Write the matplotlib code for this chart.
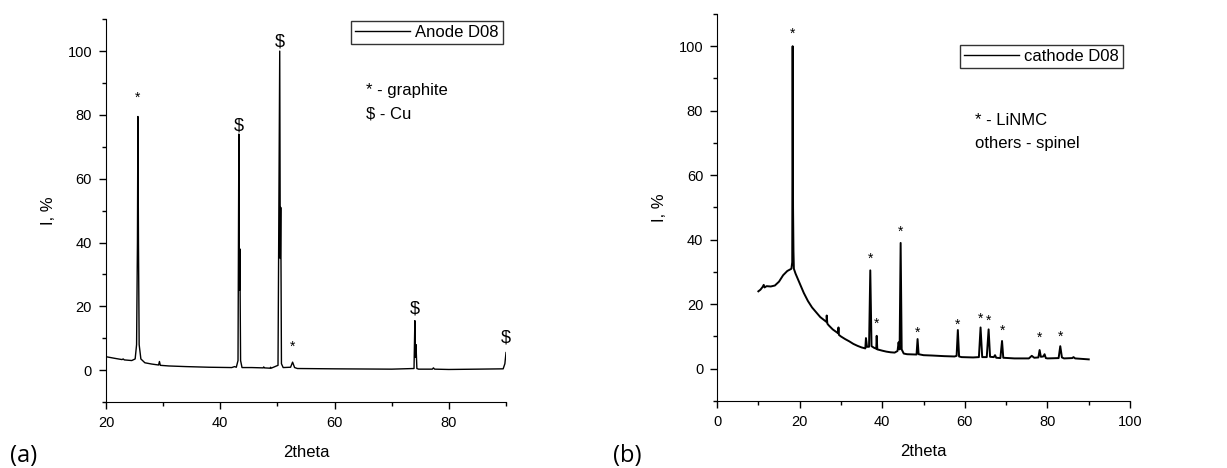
import matplotlib
matplotlib.use("Agg")
import matplotlib.pyplot as plt
from matplotlib.ticker import MultipleLocator

plt.rcParams['font.family'] = ['Liberation Sans', 'DejaVu Sans']

# anode D08 trace (2theta, I %)
anode_2theta = [20.0, 21.5, 22.8, 23.0, 23.2, 24.5, 25.1, 25.35, 25.5, 25.58, 25.68, 25.8, 26.1,
                26.8, 28.0, 29.2, 29.35, 29.5, 31.0, 34.0, 38.0, 42.0, 42.5, 42.8, 43.1, 43.25,
                43.35, 43.42, 43.55, 43.8, 45.5, 47.5, 47.6, 47.7, 48.7, 48.8, 48.9, 50.1, 50.4,
                50.5, 50.58, 50.7, 51.0, 52.3, 52.65, 53.0, 53.5, 60.0, 70.0, 73.9, 74.05, 74.15,
                74.25, 74.4, 74.7, 77.1, 77.3, 77.5, 80.0, 85.0, 89.5, 89.8, 90.0]
anode_int = [4.2, 3.7, 3.3, 3.5, 3.2, 3.0, 3.5, 8.0, 40.0, 79.5, 40.0, 8.0, 3.5,
             2.3, 1.9, 1.6, 2.7, 1.5, 1.3, 1.1, 0.9, 0.8, 1.1, 0.9, 3.0, 74.0,
             25.0, 38.0, 3.0, 0.8, 0.8, 0.7, 1.0, 0.7, 0.6, 0.9, 0.6, 1.5, 100.0,
             35.0, 51.0, 2.0, 0.8, 0.9, 2.5, 0.8, 0.5, 0.4, 0.3, 0.5, 15.5, 4.0,
             8.0, 0.5, 0.3, 0.3, 0.7, 0.3, 0.2, 0.3, 0.4, 2.0, 5.5]

# cathode D08 trace
cathode_2theta = [10.0, 10.5, 11.0, 11.3, 11.5, 12.0, 13.0, 14.0, 15.0, 16.0, 17.0, 18.0, 18.2,
                  18.3, 18.4, 18.5, 18.6, 19.0, 20.0, 21.0, 22.0, 23.0, 24.0, 25.0, 26.0, 26.5,
                  26.55, 26.7, 27.0, 28.0, 29.3, 29.4, 29.5, 30.0, 31.0, 32.0, 33.0, 34.0, 35.0,
                  35.9, 36.05, 36.3, 36.8, 37.1, 37.4, 38.0, 38.55, 38.65, 38.8, 40.0, 41.0, 42.0,
                  43.0, 43.7, 43.95, 44.2, 44.45, 44.7, 45.2, 46.0, 48.3, 48.55, 48.8, 50.0, 52.0,
                  55.0, 57.5, 58.0, 58.3, 58.6, 59.2, 62.0, 63.4, 63.8, 64.2, 65.3, 65.75, 66.1,
                  67.0, 67.3, 67.6, 68.6, 69.0, 69.3, 72.0, 75.5, 76.2, 76.8, 77.8, 78.1, 78.4,
                  79.0, 79.3, 79.6, 80.0, 82.7, 83.1, 83.5, 84.0, 86.0, 86.3, 86.7, 90.0]
cathode_int = [24.0, 24.5, 25.3, 26.0, 25.2, 25.6, 25.5, 25.8, 27.0, 29.0, 30.3, 31.0, 33.0,
               100.0, 50.0, 36.5, 31.0, 29.5, 26.5, 23.5, 21.0, 19.0, 17.5, 16.0, 15.0, 14.5,
               16.5, 14.0, 13.5, 12.2, 11.0, 12.8, 10.5, 10.0, 9.2, 8.5, 7.7, 7.1, 6.6,
               6.3, 9.5, 6.8, 6.8, 30.5, 7.0, 6.5, 6.2, 10.2, 6.0, 5.6, 5.3, 5.1,
               5.0, 5.5, 8.2, 6.0, 39.0, 6.0, 4.7, 4.5, 4.4, 9.2, 4.5, 4.2, 4.1,
               3.9, 3.8, 4.0, 12.0, 3.8, 3.6, 3.5, 3.6, 12.8, 3.6, 3.6, 12.2, 3.7,
               3.6, 4.2, 3.4, 3.3, 8.6, 3.4, 3.2, 3.2, 4.0, 3.4, 3.5, 5.8, 3.7,
               3.8, 4.5, 3.3, 3.2, 3.3, 7.0, 3.5, 3.2, 3.3, 3.6, 3.2, 2.9]

# peak markers: position, label height, symbol
anode_mark_x = [25.58, 43.25, 50.4, 52.65, 74.05, 89.9]
anode_mark_y = [85.5, 76.5, 103.0, 7.3, 19.0, 10.0]
anode_mark_s = ['*', '$', '$', '*', '$', '$']

cathode_mark_x = [18.3, 37.1, 38.65, 44.45, 48.55, 58.3, 63.8, 65.75, 69.0, 78.1, 83.1]
cathode_mark_y = [104.0, 34.0, 14.0, 42.5, 11.3, 13.6, 15.6, 15.0, 11.7, 9.6, 10.0]


def style_axes(ax, xmajor, xminor):
    ax.spines['top'].set_visible(False)
    ax.spines['right'].set_visible(False)
    ax.set_ylim(-10, 110)
    ax.xaxis.set_major_locator(MultipleLocator(xmajor))
    ax.xaxis.set_minor_locator(MultipleLocator(xminor))
    ax.yaxis.set_major_locator(MultipleLocator(20))
    ax.yaxis.set_minor_locator(MultipleLocator(10))
    ax.tick_params(which='major', direction='out', length=5, width=1, labelsize=10.5, pad=5)
    ax.tick_params(which='minor', direction='out', length=3, width=1)
    ax.set_xlabel('2theta', fontsize=12, labelpad=11)
    ax.set_ylabel('I, %', fontsize=12, labelpad=8)


fig = plt.figure(figsize=(12.27, 4.68), dpi=100)

ax1 = fig.add_axes([0.0864, 0.141, 0.326, 0.818])
ax1.plot(anode_2theta, anode_int, color='black', lw=1.0, label='Anode D08')
ax1.set_xlim(20, 90)
style_axes(ax1, 20, 10)
for x, y, s in zip(anode_mark_x, anode_mark_y, anode_mark_s):
    ax1.text(x, y, s, ha='center', va='center', fontsize=10 if s == '*' else 13)
ax1.text(0.65, 0.815, '* - graphite', transform=ax1.transAxes, fontsize=12, va='center')
ax1.text(0.65, 0.752, '$ - Cu', transform=ax1.transAxes, fontsize=12, va='center')
leg1 = ax1.legend(loc='upper right', bbox_to_anchor=(503 / 1227, 1 - 21 / 468),
                  bbox_transform=fig.transFigure, borderaxespad=0, fancybox=False,
                  edgecolor='#333333', framealpha=1, fontsize=12, handlelength=3.3,
                  handletextpad=0.3, borderpad=0.25)

ax2 = fig.add_axes([0.5844, 0.1432, 0.3366, 0.827])
ax2.plot(cathode_2theta, cathode_int, color='black', lw=1.4, label='cathode D08')
ax2.set_xlim(0, 100)
style_axes(ax2, 20, 10)
for x, y in zip(cathode_mark_x, cathode_mark_y):
    ax2.text(x, y, '*', ha='center', va='center', fontsize=10)
ax2.text(0.625, 0.725, '* - LiNMC', transform=ax2.transAxes, fontsize=12, va='center')
ax2.text(0.625, 0.665, 'others - spinel', transform=ax2.transAxes, fontsize=12, va='center')
leg2 = ax2.legend(loc='upper right', bbox_to_anchor=(1123 / 1227, 1 - 45 / 468),
                  bbox_transform=fig.transFigure, borderaxespad=0, fancybox=False,
                  edgecolor='#333333', framealpha=1, fontsize=12, handlelength=3.3,
                  handletextpad=0.3, borderpad=0.25)
for leg in (leg1, leg2):
    for h in leg.get_lines():
        h.set_linewidth(1.0)

fig.text(10 / 1227, 1 - 456 / 468, '(a)', fontsize=17, family=['Open Sans', 'DejaVu Sans'],
         va='center')
fig.text(613 / 1227, 1 - 456 / 468, '(b)', fontsize=17, family=['Open Sans', 'DejaVu Sans'],
         va='center')

fig.savefig('out.png', dpi=100)
